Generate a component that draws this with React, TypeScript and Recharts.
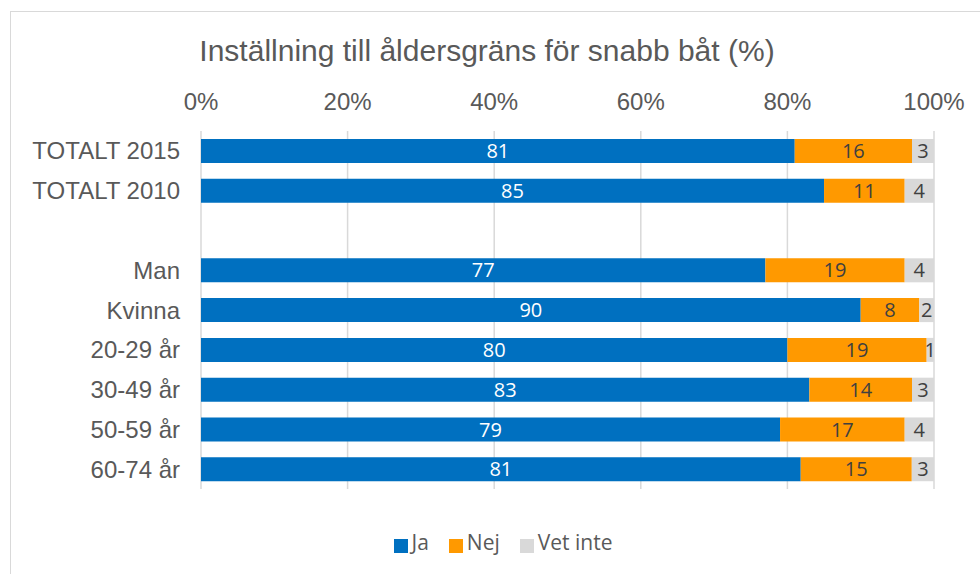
import React from 'react';
import { BarChart, Bar, XAxis, YAxis, CartesianGrid, Legend, LabelList } from 'recharts';

// Inställning till åldersgräns för snabb båt, andel i procent
const categories = ['TOTALT 2015', 'TOTALT 2010', '', 'Man', 'Kvinna', '20-29 år', '30-49 år', '50-59 år', '60-74 år'];
const ja = [81, 85, 0, 77, 90, 80, 83, 79, 81];
const nej = [16, 11, 0, 19, 8, 19, 14, 17, 15];
const vetInte = [3, 4, 0, 4, 2, 1, 3, 4, 3];
const xTicks = [0, 0.2, 0.4, 0.6, 0.8, 1];

const data = categories.map((name, i) => ({ name, ja: ja[i], nej: nej[i], vetInte: vetInte[i] }));

const GREY_TEXT = '#595959';
const LABEL_FONT = '"Open Sans", "Noto Sans", sans-serif';
const AXIS_FONT = '"Liberation Sans", Arial, sans-serif';

const hideZero = (v: any) => (v ? String(v) : '');

export default function App() {
  return (
    <div
      style={{
        position: 'absolute',
        left: 0,
        top: 0,
        width: 980,
        height: 574,
        background: '#fff',
        overflow: 'hidden',
        fontFamily: AXIS_FONT,
      }}
    >
      <div
        style={{
          position: 'absolute',
          left: 10,
          top: 11,
          width: 1000,
          height: 600,
          border: '1px solid #d9d9d9',
          boxSizing: 'border-box',
        }}
      />
      <div
        style={{
          position: 'absolute',
          left: 0,
          top: 34,
          width: 974,
          textAlign: 'center',
          fontFamily: AXIS_FONT,
          fontSize: 30,
          color: GREY_TEXT,
        }}
      >
        Inställning till åldersgräns för snabb båt (%)
      </div>
      <BarChart
        width={980}
        height={574}
        data={data}
        layout="vertical"
        stackOffset="expand"
        barSize={24}
        margin={{ top: 91, right: 46, bottom: 57, left: 0 }}
        style={{ position: 'absolute', left: 0, top: 0 }}
      >
        <CartesianGrid horizontal={false} stroke="#d9d9d9" strokeWidth={1.5} />
        <XAxis
          type="number"
          orientation="top"
          domain={[0, 1]}
          ticks={xTicks}
          tickFormatter={(v) => `${Math.round(v * 100)}%`}
          axisLine={false}
          tickLine={false}
          tickSize={0}
          tickMargin={21}
          height={40}
          interval={0}
          tick={{ fill: GREY_TEXT, fontSize: 24, fontFamily: AXIS_FONT }}
        />
        <YAxis
          type="category"
          dataKey="name"
          width={201}
          axisLine={false}
          tickLine={false}
          tickSize={0}
          tickMargin={21}
          interval={0}
          tick={{ fill: GREY_TEXT, fontSize: 24, fontFamily: AXIS_FONT }}
        />
        <Legend
          verticalAlign="bottom"
          iconType="square"
          iconSize={14}
          wrapperStyle={{ left: 46, width: 934, bottom: 18 }}
          formatter={(value) => (
            <span style={{ color: GREY_TEXT, fontSize: 21, fontFamily: LABEL_FONT, marginRight: 10 }}>{value}</span>
          )}
        />
        <Bar dataKey="ja" name="Ja" stackId="a" fill="#0070C0" isAnimationActive={false}>
          <LabelList dataKey="ja" position="center" formatter={hideZero} fill="#ffffff" fontSize={20} fontFamily={LABEL_FONT} />
        </Bar>
        <Bar dataKey="nej" name="Nej" stackId="a" fill="#FF9900" isAnimationActive={false}>
          <LabelList dataKey="nej" position="center" formatter={hideZero} fill="#404040" fontSize={20} fontFamily={LABEL_FONT} />
        </Bar>
        <Bar dataKey="vetInte" name="Vet inte" stackId="a" fill="#D9D9D9" isAnimationActive={false}>
          <LabelList dataKey="vetInte" position="center" formatter={hideZero} fill="#404040" fontSize={20} fontFamily={LABEL_FONT} />
        </Bar>
      </BarChart>
    </div>
  );
}
